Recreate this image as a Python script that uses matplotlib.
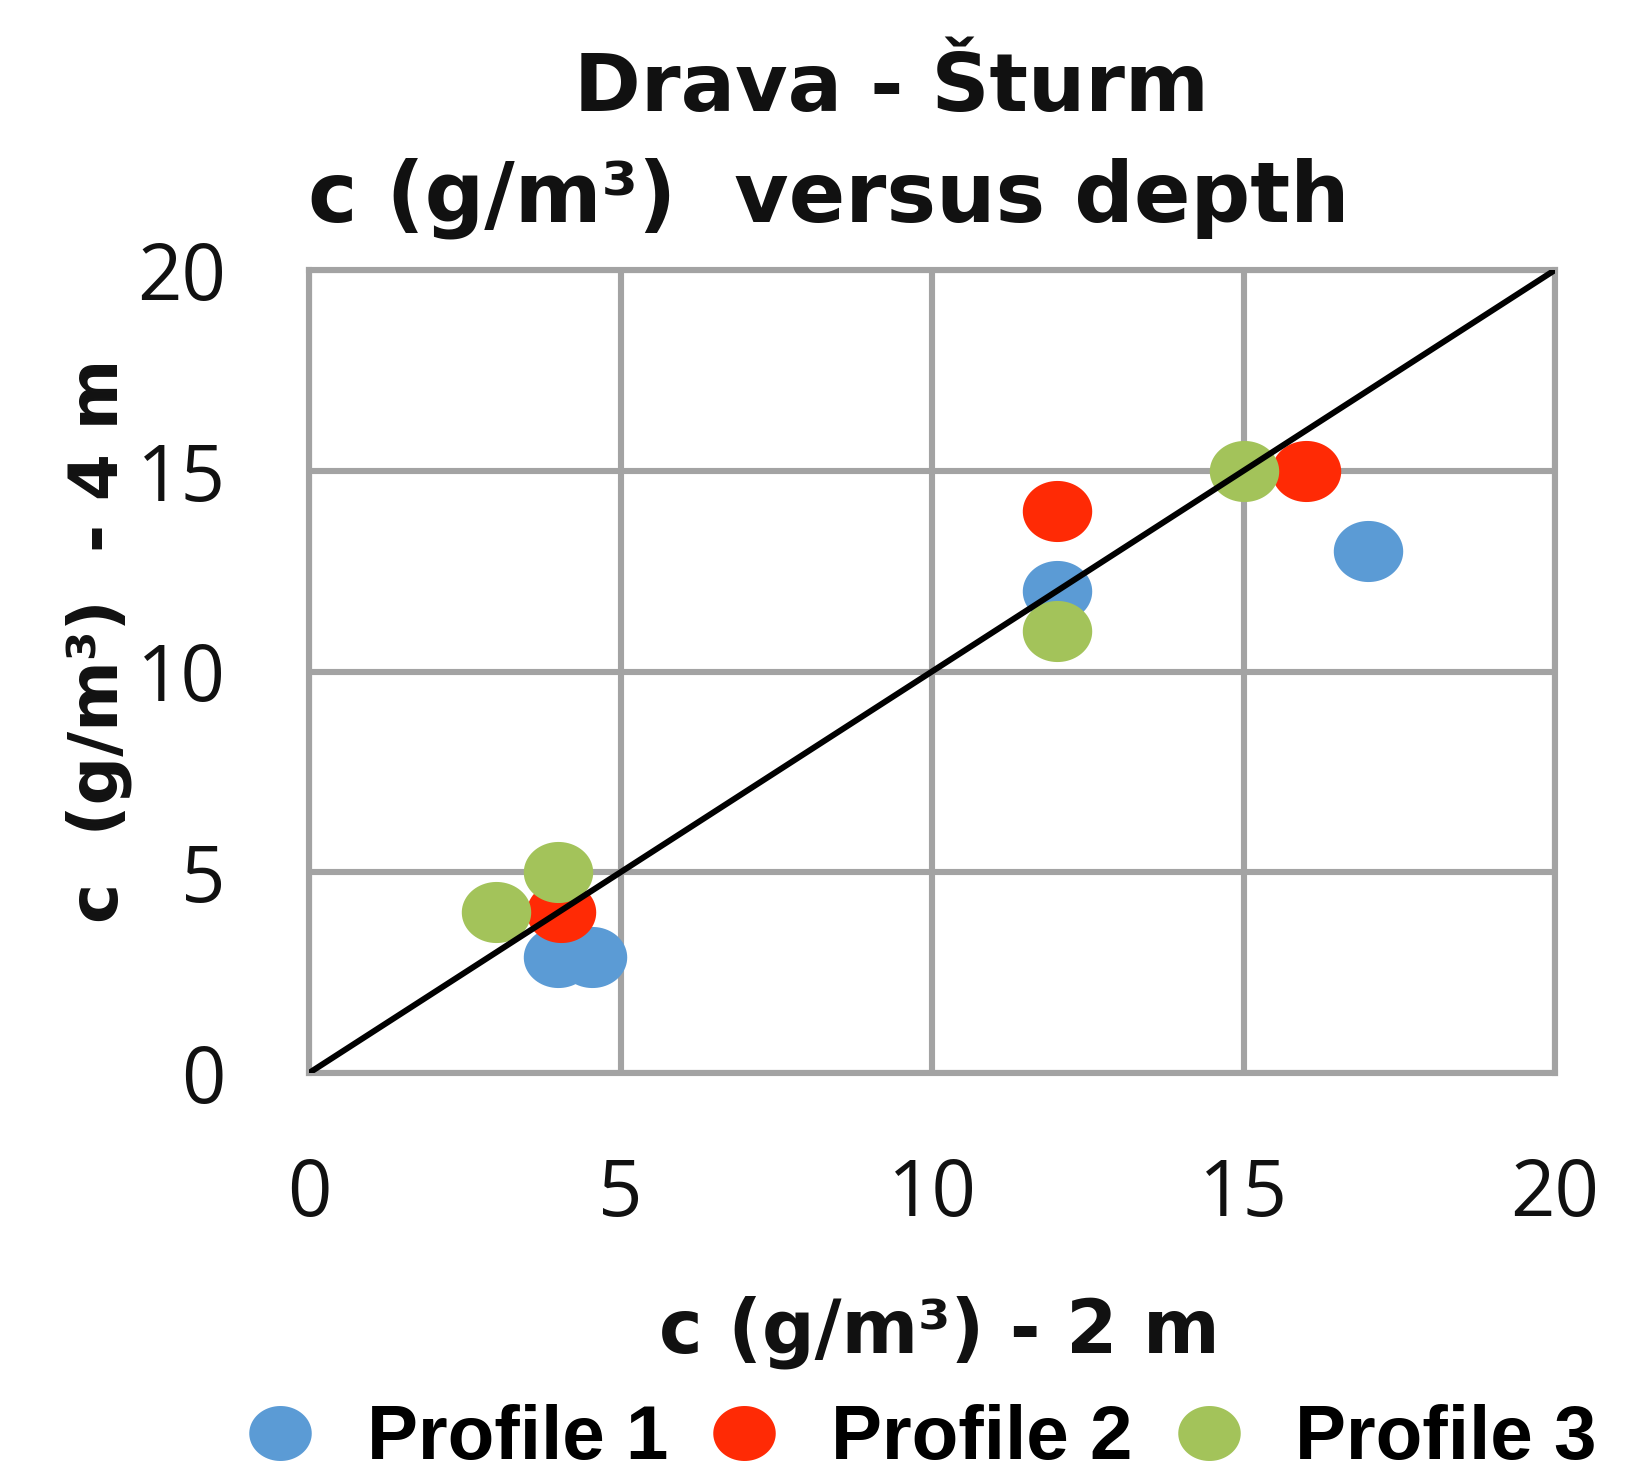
import numpy as np
import matplotlib.pyplot as plt
from matplotlib.path import Path
from matplotlib.lines import Line2D

# Profile 1 (blue)
p1_x = [12, 17, 4.0, 4.55]
p1_y = [12.0, 13.0, 2.9, 2.9]
# Profile 2 (red)
p2_x = [12, 16, 4.05]
p2_y = [14.0, 15.0, 4.0]
# Profile 3 (green)
p3_x = [15, 12, 4.0, 3.0]
p3_y = [15.0, 11.0, 5.0, 4.0]

# 1:1 line
line_x = [0, 20]
line_y = [0, 20]

ticks = [0, 5, 10, 15, 20]
labels = ["Profile 1", "Profile 2", "Profile 3"]
colors = ["#5b9bd5", "#ff2a05", "#a3c35a"]

# elliptical marker (wider than tall, like the original)
t = np.linspace(0, 2 * np.pi, 80)
ellipse = Path(np.column_stack([np.cos(t), 0.88 * np.sin(t)]), closed=True)

fig = plt.figure(figsize=(16.27, 14.84), dpi=100)
ax = fig.add_axes([309 / 1627, 1 - 1073 / 1484, (1555 - 309) / 1627, (1073 - 270) / 1484])

grid_c = "#a3a3a3"
ms = 50
ax.plot(p1_x, p1_y, ls="none", marker=ellipse, ms=ms, color=colors[0], mec="none", zorder=3)
ax.plot(p2_x, p2_y, ls="none", marker=ellipse, ms=ms, color=colors[1], mec="none", zorder=3)
ax.plot(p3_x, p3_y, ls="none", marker=ellipse, ms=ms, color=colors[2], mec="none", zorder=3)
ax.plot(line_x, line_y, color="black", lw=4.3, zorder=4, solid_capstyle="round")

ax.set_xlim(0, 20)
ax.set_ylim(0, 20)
ax.set_xticks(ticks)
ax.set_yticks(ticks)
ax.grid(True, color=grid_c, lw=4.4, zorder=0)
ax.set_axisbelow(True)
for s in ax.spines.values():
    s.set_color(grid_c)
    s.set_linewidth(4.4)
ax.tick_params(length=0, labelsize=56, labelcolor="#111111", pad=60)
for lab in ax.get_xticklabels() + ax.get_yticklabels():
    lab.set_family("Open Sans")

bold = dict(family="DejaVu Sans", weight="bold", color="#111111")
fig.text(0.548, 1 - 89 / 1484, "Drava - Šturm", ha="center", va="center", fontsize=58, **bold)
fig.text(308 / 1627, 1 - 198 / 1484, "c (g/m³)  versus depth", ha="left", va="center", fontsize=60, **bold)
fig.text(939 / 1627, 1 - 1332 / 1484, "c (g/m³) - 2 m", ha="center", va="center", fontsize=53, **bold)
fig.text(99 / 1627, 1 - 641 / 1484, "c  (g/m³)  - 4 m", ha="center", va="center", rotation=90, fontsize=49, **bold)

handles = [Line2D([], [], ls="none", marker=ellipse, ms=45, color=c, mec="none") for c in colors]
fig.legend(handles, labels, loc="center", bbox_to_anchor=(0.565, 1 - 1440 / 1484), ncol=3,
           frameon=False, handletextpad=0.63, columnspacing=0.5, handlelength=1.0,
           prop=dict(family="Liberation Sans", weight="bold", size=55))

fig.savefig("out.png", dpi=100)
